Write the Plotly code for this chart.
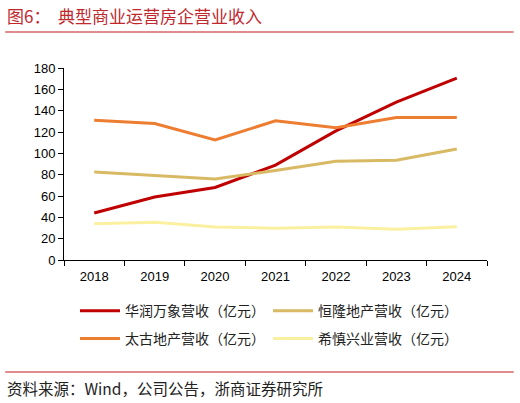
import plotly.graph_objects as go

# Data (亿元)
years = ['2018', '2019', '2020', '2021', '2022', '2023', '2024']
crland = [44, 59, 68, 89, 121, 148, 170.5]
swire = [131, 128, 112.5, 130.5, 124, 133.5, 133.5]
hanglung = [82.5, 79, 76, 84, 92.5, 93.5, 104]
hysan = [34, 35.5, 31, 29.7, 31, 28.8, 31.2]

names = ['华润万象营收（亿元）', '恒隆地产营收（亿元）', '太古地产营收（亿元）', '希慎兴业营收（亿元）']
series = [crland, hanglung, swire, hysan]
colors = ['#C00000', '#D8B964', '#ED7D31', '#FBF0A0']
legend_rows = ['legend', 'legend', 'legend2', 'legend2']

cjk = 'Noto Sans CJK SC'
latin = 'Liberation Sans, Arial'

fig = go.Figure()
for name, vals, col, lg in zip(names, series, colors, legend_rows):
    fig.add_trace(go.Scatter(
        x=years, y=vals, mode='lines', name=name, legend=lg,
        line=dict(color=col, width=3)
    ))

leg_common = dict(
    orientation='h', xanchor='left', yanchor='middle',
    entrywidth=138, entrywidthmode='pixels', itemwidth=40,
    font=dict(family=cjk, size=14, color='#222222'),
    traceorder='normal', bgcolor='rgba(0,0,0,0)'
)

fig.update_layout(
    width=520, height=403,
    margin=dict(l=64, r=33, t=68, b=143, autoexpand=False),
    paper_bgcolor='white', plot_bgcolor='white',
    showlegend=True,
    legend=dict(x=0.026, y=-0.266, **leg_common),
    legend2=dict(x=0.026, y=-0.411, **leg_common),
)

fig.update_xaxes(
    type='category', showline=True, linecolor='black', linewidth=1,
    ticks='outside', ticklen=5, tickcolor='black', tickson='boundaries',
    showgrid=False, tickfont=dict(family=latin, size=13, color='black'),
    ticklabelstandoff=4, range=[-0.5, 6.5]
)
fig.update_yaxes(
    range=[0, 180], dtick=20, showline=True, linecolor='black', linewidth=1,
    ticks='outside', ticklen=5, tickcolor='black', showgrid=False,
    zeroline=False, tickfont=dict(family=latin, size=13, color='black')
)

# Title, rules and source note
fig.add_annotation(
    text='图6：  典型商业运营房企营业收入', xref='paper', yref='paper',
    x=-0.139, y=1.271, xanchor='left', yanchor='middle', showarrow=False,
    font=dict(family=cjk, size=17, color='#C0282D')
)
fig.add_shape(type='line', xref='paper', yref='paper',
              x0=-0.139, x1=1.063, y0=1.188, y1=1.188,
              line=dict(color='#D9646A', width=1.5))
fig.add_shape(type='line', xref='paper', yref='paper',
              x0=-0.139, x1=1.063, y0=-0.583, y1=-0.583,
              line=dict(color='#D9646A', width=1.5))
fig.add_annotation(
    text='资料来源：Wind，公司公告，浙商证券研究所', xref='paper', yref='paper',
    x=-0.139, y=-0.667, xanchor='left', yanchor='middle', showarrow=False,
    font=dict(family=cjk, size=15.5, color='#222222')
)

# drop the browser's default page margin so the figure sits at the top-left corner
fig.write_html('out.html', config={'displayModeBar': False},
               post_script="document.body.style.margin='0';")
